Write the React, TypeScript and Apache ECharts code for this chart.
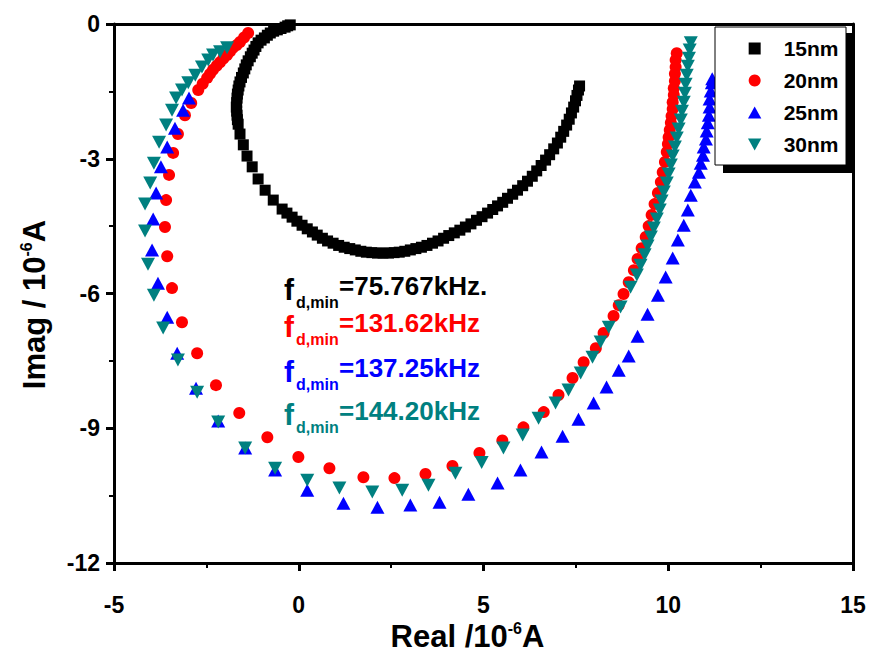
import React, { useEffect, useRef } from "react";
import * as echarts from "echarts";

const xTicks = [-5, 0, 5, 10, 15];
const yTicks = [-12, -9, -6, -3, 0];
const seriesNames = ["15nm", "20nm", "25nm", "30nm"];
const seriesColors = ["#000000", "#FF0000", "#0000FF", "#008080"];
const freqValues = ["=75.767kHz.", "=131.62kHz", "=137.25kHz", "=144.20kHz"];

const data15nm = [
  [-0.23, -0.02], [-0.3, -0.04], [-0.37, -0.07], [-0.48, -0.1], [-0.58, -0.13], [-0.68, -0.16], [-0.77, -0.2],
  [-0.85, -0.25], [-0.93, -0.31], [-1.02, -0.36], [-1.1, -0.42], [-1.16, -0.5], [-1.21, -0.58], [-1.26, -0.65],
  [-1.31, -0.73], [-1.37, -0.82], [-1.42, -0.91], [-1.46, -1.0], [-1.5, -1.09], [-1.55, -1.19], [-1.59, -1.29],
  [-1.62, -1.38], [-1.64, -1.47], [-1.66, -1.56], [-1.67, -1.65], [-1.68, -1.75], [-1.69, -1.85], [-1.68, -1.94],
  [-1.67, -2.03], [-1.66, -2.13], [-1.64, -2.23], [-1.59, -2.45], [-1.5, -2.69], [-1.4, -2.94], [-1.26, -3.18],
  [-1.1, -3.45], [-0.91, -3.7], [-0.69, -3.92], [-0.45, -4.12], [-0.32, -4.21], [-0.18, -4.3], [-0.05, -4.39],
  [0.09, -4.48], [0.23, -4.56], [0.37, -4.63], [0.5, -4.7], [0.64, -4.77], [0.78, -4.83], [0.93, -4.88],
  [1.08, -4.93], [1.23, -4.97], [1.38, -5.0], [1.53, -5.03], [1.68, -5.06], [1.83, -5.08], [1.98, -5.09],
  [2.13, -5.1], [2.28, -5.1], [2.43, -5.1], [2.58, -5.09], [2.72, -5.08], [2.87, -5.06], [3.02, -5.03],
  [3.17, -5.0], [3.32, -4.97], [3.47, -4.93], [3.62, -4.88], [3.77, -4.83], [3.92, -4.77], [4.06, -4.71],
  [4.21, -4.65], [4.36, -4.59], [4.51, -4.52], [4.66, -4.45], [4.81, -4.37], [4.96, -4.29], [5.11, -4.21],
  [5.25, -4.13], [5.38, -4.05], [5.52, -3.97], [5.65, -3.88], [5.79, -3.79], [5.92, -3.7], [6.06, -3.6],
  [6.19, -3.5], [6.32, -3.39], [6.44, -3.27], [6.56, -3.15], [6.68, -3.03], [6.79, -2.91], [6.9, -2.78],
  [7.0, -2.65], [7.09, -2.52], [7.17, -2.39], [7.25, -2.25], [7.32, -2.12], [7.38, -1.98], [7.44, -1.85],
  [7.49, -1.71], [7.53, -1.59], [7.57, -1.47], [7.6, -1.38],
];

const data20nm = [
  [-1.37, -0.2], [-1.48, -0.3], [-1.59, -0.4], [-1.68, -0.47], [-1.78, -0.53], [-1.86, -0.61], [-1.94, -0.69],
  [-2.04, -0.77], [-2.13, -0.85], [-2.22, -0.93], [-2.32, -1.02], [-2.4, -1.11], [-2.48, -1.2], [-2.6, -1.33],
  [-2.72, -1.47], [-2.91, -1.76], [-3.08, -2.03], [-3.27, -2.45], [-3.4, -2.87], [-3.51, -3.36], [-3.59, -3.92],
  [-3.62, -4.52], [-3.56, -5.17], [-3.43, -5.88], [-3.16, -6.64], [-2.75, -7.33], [-2.24, -8.04], [-1.61, -8.66],
  [-0.85, -9.2], [-0.01, -9.64], [0.83, -9.89], [1.75, -10.09], [2.59, -10.11], [3.43, -10.02], [4.16, -9.84],
  [4.89, -9.55], [5.51, -9.27], [6.08, -8.98], [6.63, -8.64], [7.03, -8.26], [7.41, -7.88], [7.71, -7.53],
  [8.04, -7.22], [8.25, -6.88], [8.52, -6.5], [8.66, -6.26], [8.79, -6.01], [8.93, -5.75], [9.07, -5.48],
  [9.17, -5.23], [9.28, -4.99], [9.39, -4.74], [9.47, -4.5], [9.55, -4.25], [9.63, -4.01], [9.72, -3.76],
  [9.8, -3.52], [9.85, -3.3], [9.91, -3.07], [9.96, -2.85], [9.99, -2.67], [10.01, -2.52], [10.04, -2.36],
  [10.07, -2.2], [10.09, -2.05], [10.12, -1.89], [10.12, -1.74], [10.15, -1.58], [10.15, -1.43], [10.18, -1.27],
  [10.18, -1.11], [10.2, -0.96], [10.2, -0.8], [10.23, -0.65],
];

const data25nm = [
  [-2.97, -1.65], [-3.13, -1.92], [-3.35, -2.32], [-3.56, -2.74], [-3.73, -3.18], [-3.86, -3.76], [-3.94, -4.34],
  [-3.97, -5.03], [-3.81, -5.77], [-3.56, -6.53], [-3.29, -7.33], [-2.78, -8.11], [-2.18, -8.84], [-1.45, -9.44],
  [-0.64, -9.93], [0.23, -10.38], [1.21, -10.67], [2.13, -10.76], [3.02, -10.71], [3.81, -10.65], [4.59, -10.47],
  [5.38, -10.22], [6.0, -9.93], [6.57, -9.53], [7.14, -9.18], [7.57, -8.8], [7.98, -8.44], [8.33, -8.08],
  [8.66, -7.71], [8.93, -7.39], [9.17, -6.95], [9.44, -6.46], [9.72, -6.04], [9.93, -5.63], [10.12, -5.21],
  [10.26, -4.81], [10.42, -4.48], [10.53, -4.14], [10.61, -3.81], [10.72, -3.52], [10.83, -3.3], [10.88, -3.1],
  [10.94, -2.92], [10.96, -2.74], [11.02, -2.56], [11.04, -2.38], [11.07, -2.2], [11.1, -2.03], [11.12, -1.85],
  [11.12, -1.67], [11.15, -1.49], [11.18, -1.31], [11.19, -1.22],
];

const data30nm = [
  [-1.94, -0.53], [-2.13, -0.62], [-2.32, -0.69], [-2.45, -0.8], [-2.62, -0.96], [-2.8, -1.14], [-2.99, -1.31],
  [-3.16, -1.47], [-3.32, -1.65], [-3.43, -1.92], [-3.59, -2.25], [-3.78, -2.63], [-3.92, -3.1], [-4.02, -3.54],
  [-4.16, -4.01], [-4.16, -4.61], [-4.08, -5.35], [-3.92, -6.04], [-3.67, -6.77], [-3.27, -7.48], [-2.75, -8.2],
  [-2.18, -8.86], [-1.45, -9.44], [-0.64, -9.89], [0.23, -10.16], [1.1, -10.33], [1.99, -10.42], [2.8, -10.38],
  [3.51, -10.27], [4.24, -10.0], [4.95, -9.76], [5.54, -9.44], [6.06, -9.15], [6.49, -8.78], [6.95, -8.44],
  [7.3, -8.15], [7.63, -7.77], [7.95, -7.42], [8.17, -7.08], [8.39, -6.75], [8.71, -6.3], [8.98, -5.86],
  [9.15, -5.59], [9.25, -5.37], [9.36, -5.14], [9.44, -4.94], [9.53, -4.74], [9.61, -4.54], [9.69, -4.34],
  [9.77, -4.14], [9.82, -3.94], [9.88, -3.74], [9.96, -3.54], [10.01, -3.34], [10.07, -3.14], [10.12, -2.94],
  [10.18, -2.74], [10.23, -2.54], [10.28, -2.34], [10.34, -2.14], [10.37, -1.94], [10.42, -1.74], [10.45, -1.54],
  [10.47, -1.34], [10.5, -1.14], [10.53, -0.94], [10.56, -0.76], [10.58, -0.58], [10.61, -0.42],
];

const FONT = "'Liberation Sans', Arial, Helvetica, sans-serif";

const SQUARE = "path://M0,0H10V10H0Z";
const TRI_UP = "path://M5,0L10,9L0,9Z";
const TRI_DOWN = "path://M0,0L10,0L5,9Z";

const titleRich = {
  a: { fontSize: 31, fontWeight: "bold", fontFamily: FONT, color: "#000" },
  b: { fontSize: 16, fontWeight: "bold", fontFamily: FONT, color: "#000", padding: [0, 0, 16, 0] },
};

const frameAxis = {
  show: true,
  axisLine: { show: true, onZero: false, lineStyle: { color: "#000", width: 3 } },
  axisTick: { show: false },
  axisLabel: { show: false },
  splitLine: { show: false },
};

export default function App() {
  const ref = useRef<HTMLDivElement>(null);

  useEffect(() => {
    if (!ref.current) return;
    const chart = echarts.init(ref.current, null, { renderer: "svg" });

    const allData = [data15nm, data20nm, data25nm, data30nm];
    const symbols = [SQUARE, "circle", TRI_UP, TRI_DOWN];
    const sizes: any[] = [[11, 11], 12, [14, 13], [14, 13]];

    const annCenters = [286, 323, 368, 411];
    const annGraphics: any[] = [];
    freqValues.forEach((v, i) => {
      const c = annCenters[i];
      const col = seriesColors[i];
      annGraphics.push({
        type: "text", x: 284, y: c + 3, z: 20,
        style: { text: "f", fontSize: 30, fontWeight: "bold", fontFamily: FONT, fill: col, textVerticalAlign: "middle" },
      });
      annGraphics.push({
        type: "text", x: 296, y: c + 16, z: 20,
        style: { text: "d,min", fontSize: 16, fontWeight: "bold", fontFamily: FONT, fill: col, textVerticalAlign: "middle" },
      });
      annGraphics.push({
        type: "text", x: 339, y: c, z: 20,
        style: { text: v, fontSize: 26, fontWeight: "bold", fontFamily: FONT, fill: col, textVerticalAlign: "middle" },
      });
    });

    const xMin = xTicks[0], xMax = xTicks[xTicks.length - 1];
    const yMin = yTicks[0], yMax = yTicks[yTicks.length - 1];

    const option: any = {
      animation: false,
      backgroundColor: "#ffffff",
      grid: { left: 114, right: 20, top: 24, bottom: 100, show: false },
      xAxis: [
        {
          type: "value",
          min: xMin, max: xMax, interval: xTicks[1] - xTicks[0],
          name: "{a|Real /10}{b|-6}{a|A}",
          nameLocation: "middle", nameGap: 56,
          nameTextStyle: { rich: titleRich, padding: [0, 32, 0, 0] },
          axisLine: { show: true, onZero: false, lineStyle: { color: "#000", width: 3 } },
          axisTick: { show: true, inside: false, length: 8, lineStyle: { color: "#000", width: 3 } },
          minorTick: { show: true, splitNumber: 2, length: 5, lineStyle: { color: "#000", width: 2 } },
          splitLine: { show: false },
          axisLabel: { fontSize: 23, fontWeight: "bold", fontFamily: FONT, color: "#000", margin: 30 },
        },
        { type: "value", position: "top", min: xMin, max: xMax, ...frameAxis },
      ],
      yAxis: [
        {
          type: "value",
          min: yMin, max: yMax, interval: yTicks[1] - yTicks[0],
          name: "{a|Imag / 10}{b|-6}{a|A}",
          nameLocation: "middle", nameGap: 64, nameRotate: 90,
          nameTextStyle: { rich: titleRich, padding: [0, 22, 0, 0] },
          axisLine: { show: true, onZero: false, lineStyle: { color: "#000", width: 3 } },
          axisTick: { show: true, inside: false, length: 8, lineStyle: { color: "#000", width: 3 } },
          minorTick: { show: true, splitNumber: 2, length: 5, lineStyle: { color: "#000", width: 2 } },
          splitLine: { show: false },
          axisLabel: { fontSize: 23, fontWeight: "bold", fontFamily: FONT, color: "#000", margin: 14 },
        },
        { type: "value", position: "right", min: yMin, max: yMax, ...frameAxis },
      ],
      legend: {
        orient: "vertical",
        left: 748, top: 38,
        padding: 0,
        itemGap: 11,
        itemWidth: 48, itemHeight: 12,
        z: 30,
        textStyle: { fontSize: 21, fontWeight: "bold", fontFamily: FONT, color: "#000" },
        data: seriesNames.map((n, i) => ({ name: n, icon: symbols[i] })),
      },
      graphic: [
        { type: "rect", z: 25, shape: { x: 723, y: 33, width: 131, height: 140 }, style: { fill: "#000" } },
        { type: "rect", z: 26, shape: { x: 715, y: 27, width: 131, height: 138 }, style: { fill: "#fff", stroke: "#000", lineWidth: 1 } },
        ...annGraphics,
      ],
      series: allData.map((d, i) => ({
        type: "scatter",
        name: seriesNames[i],
        data: d,
        symbol: symbols[i],
        symbolSize: sizes[i],
        symbolKeepAspect: false,
        itemStyle: { color: seriesColors[i], opacity: 1 },
        emphasis: { disabled: true },
        z: 2 + i,
      })),
    };

    chart.setOption(option);
    return () => chart.dispose();
  }, []);

  return (
    <div
      ref={ref}
      style={{ position: "absolute", left: 0, top: 0, width: 873, height: 663 }}
    />
  );
}
